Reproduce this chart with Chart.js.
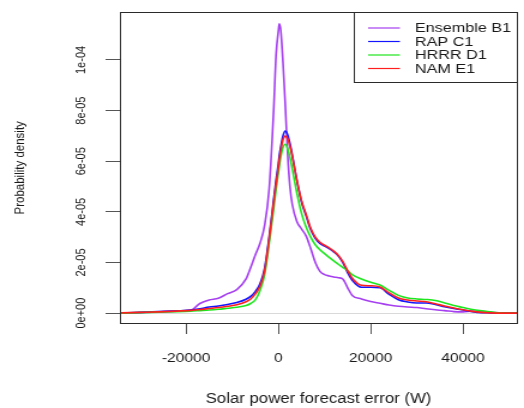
<!DOCTYPE html>
<html>
<head>
<meta charset="utf-8">
<script src="https://cdn.jsdelivr.net/npm/chart.js@4.4.1/dist/chart.umd.min.js"></script>
<style>
  html, body { margin: 0; padding: 0; background: #fff; }
  canvas { display: block; }
</style>
</head>
<body>
<!-- the reference is stretched sideways: draw narrow, widen with CSS -->
<canvas id="chart" width="437" height="408" style="width:524px;height:408px"></canvas>
<script>
// forecast error (W) where the densities were read
const errorW = [-34000, -30000, -26000, -22000, -19000, -17000, -15000, -13000, -11000, -9000,
  -7000, -6000, -5000, -4000, -3000, -2000, -1000, -500, 0, 200,
  500, 1000, 1500, 2000, 2500, 3000, 4000, 5000, 6000, 7000,
  8000, 9000, 10000, 11000, 12000, 13000, 14000, 15000, 16000, 18000,
  20000, 22000, 24000, 26000, 28000, 30000, 32000, 34000, 36000, 38000,
  40000, 42000, 44000, 46000, 48000, 50000, 52000];

// probability densities, in units of 1e-05
const ensembleB1 = [0, 0.02, 0.05, 0.08, 0.11, 0.38, 0.52, 0.59, 0.77, 0.93,
  1.35, 1.8, 2.3, 2.75, 3.45, 4.9, 8.1, 10.2, 11.15, 11.43,
  11.2, 9.9, 8.2, 6.3, 5.0, 4.3, 3.62, 3.33, 3.05, 2.55,
  2.0, 1.65, 1.52, 1.47, 1.43, 1.4, 1.34, 1.0, 0.7, 0.56,
  0.46, 0.39, 0.32, 0.27, 0.24, 0.22, 0.17, 0.13, 0.1, 0.06,
  0.05, 0.08, 0.07, 0.03, 0.01, 0, 0];
const rapC1 = [0.01, 0.03, 0.06, 0.09, 0.12, 0.17, 0.24, 0.28, 0.34, 0.42,
  0.55, 0.66, 0.85, 1.15, 1.75, 3.0, 4.5, 5.25, 5.9, 6.2,
  6.55, 7.0, 7.19, 7.05, 6.7, 6.25, 5.25, 4.4, 3.85, 3.3,
  2.95, 2.75, 2.65, 2.55, 2.42, 2.25, 1.98, 1.6, 1.3, 1.02,
  1.02, 1.0, 0.74, 0.53, 0.44, 0.4, 0.4, 0.34, 0.25, 0.18,
  0.12, 0.06, 0.02, 0.01, 0, 0, 0];
const hrrrD1 = [0, 0.02, 0.04, 0.06, 0.08, 0.1, 0.12, 0.15, 0.19, 0.23,
  0.3, 0.38, 0.52, 0.88, 1.5, 2.75, 4.15, 4.9, 5.55, 5.8,
  6.15, 6.55, 6.67, 6.5, 6.15, 5.7, 4.75, 3.95, 3.4, 3.0,
  2.7, 2.5, 2.35, 2.2, 2.06, 1.93, 1.8, 1.68, 1.52, 1.35,
  1.22, 1.11, 0.9, 0.7, 0.6, 0.56, 0.54, 0.5, 0.4, 0.3,
  0.22, 0.14, 0.09, 0.05, 0.01, 0, 0];
const namE1 = [0.01, 0.03, 0.05, 0.08, 0.11, 0.14, 0.18, 0.22, 0.27, 0.33,
  0.45, 0.56, 0.76, 1.05, 1.65, 2.9, 4.4, 5.1, 5.75, 6.05,
  6.4, 6.85, 6.99, 6.9, 6.6, 6.2, 5.25, 4.45, 3.9, 3.35,
  3.0, 2.8, 2.68, 2.58, 2.45, 2.28, 2.02, 1.68, 1.38, 1.1,
  1.08, 1.03, 0.8, 0.6, 0.52, 0.48, 0.45, 0.37, 0.28, 0.2,
  0.13, 0.07, 0.03, 0.01, 0, 0, 0];

const seriesNames = ['Ensemble B1', 'RAP C1', 'HRRR D1', 'NAM E1'];
const seriesData = [ensembleB1, rapC1, hrrrD1, namE1];
const seriesColors = ['#a53ff0', '#1414ff', '#1ee61e', '#ff1e1e'];
// drawing order: NAM on top, Ensemble underneath
const seriesOrder = [4, 3, 2, 1];

const xTickValues = [-20000, 0, 20000, 40000];
const xTickLabels = ['-20000', '0', '20000', '40000'];
const yTickValues = [0, 2, 4, 6, 8, 10];
const yTickLabels = ['0e+00', '2e-05', '4e-05', '6e-05', '8e-05', '1e-04'];

const FONT = '"Liberation Sans", Arial, sans-serif';

// box round the plot + legend in the top right corner
const frameAndLegend = {
  id: 'frameAndLegend',
  afterDraw(chart) {
    const { ctx, chartArea: a } = chart;
    ctx.save();
    ctx.strokeStyle = '#2a2a2a';
    ctx.lineWidth = 1;
    const l = Math.round(a.left) + 0.5, t = Math.round(a.top) + 0.5;
    const r = Math.round(a.right) - 0.5, b = Math.round(a.bottom) - 0.5;
    ctx.strokeRect(l, t, r - l, b - t);

    const lx = 295.5, ly = t, lh = 70;
    ctx.fillStyle = '#fff';
    ctx.fillRect(lx, ly, r - lx, lh);
    ctx.strokeRect(lx, ly, r - lx, lh);
    ctx.font = '13.5px ' + FONT;
    ctx.textBaseline = 'middle';
    chart.data.datasets.forEach((ds, i) => {
      const y = ly + 15.5 + i * 13.5;
      ctx.strokeStyle = ds.borderColor;
      ctx.lineWidth = 1.2;
      ctx.beginPath();
      ctx.moveTo(307, y);
      ctx.lineTo(333.5, y);
      ctx.stroke();
      ctx.fillStyle = '#1a1a1a';
      ctx.fillText(ds.label, 346, y + 0.5);
    });
    ctx.restore();
  }
};

new Chart(document.getElementById('chart'), {
  type: 'line',
  data: {
    datasets: seriesNames.map((name, i) => ({
      label: name,
      data: errorW.map((x, j) => ({ x, y: seriesData[i][j] })),
      borderColor: seriesColors[i],
      borderWidth: 1.6,
      pointRadius: 0,
      cubicInterpolationMode: 'monotone',
      fill: false,
      order: seriesOrder[i]
    }))
  },
  options: {
    responsive: false,
    devicePixelRatio: 1,
    animation: false,
    events: [],
    layout: { padding: { left: 0, right: 5.4, top: 7, bottom: 0 } },
    scales: {
      x: {
        type: 'linear',
        min: -34400,
        max: 51800,
        afterBuildTicks: s => { s.ticks = xTickValues.map(v => ({ value: v })); },
        afterFit: s => { s.height = 84; },
        border: { display: false },
        grid: { drawOnChartArea: false, tickLength: 10, tickColor: '#555', tickWidth: 1 },
        ticks: {
          autoSkip: false,
          maxRotation: 0,
          padding: 17,
          color: '#1a1a1a',
          font: { family: FONT, size: 13 },
          callback: (v, i) => xTickLabels[i]
        },
        title: {
          display: true,
          text: 'Solar power forecast error (W)',
          color: '#1a1a1a',
          font: { family: FONT, size: 14 },
          padding: { top: 0, bottom: 0 }
        }
      },
      y: {
        type: 'linear',
        min: -0.43,
        max: 11.91,
        afterBuildTicks: s => { s.ticks = yTickValues.map(v => ({ value: v })); },
        afterFit: s => { s.width = 99.7; },
        border: { display: false },
        grid: {
          drawOnChartArea: true,
          color: c => (c.tick && c.tick.value === 0 ? '#d9d9d9' : 'rgba(0,0,0,0)'),
          tickLength: 11.7,
          tickColor: '#555',
          tickWidth: 1
        },
        ticks: {
          autoSkip: false,
          minRotation: 90,
          maxRotation: 90,
          crossAlign: 'center',
          padding: 5,
          color: '#1a1a1a',
          font: { family: FONT, size: 11 },
          callback: (v, i) => yTickLabels[i]
        },
        title: {
          display: true,
          text: 'Probability density',
          color: '#1a1a1a',
          font: { family: FONT, size: 11.5 },
          padding: { top: 9.8, bottom: 0 }
        }
      }
    },
    plugins: {
      legend: { display: false },
      tooltip: { enabled: false }
    }
  },
  plugins: [frameAndLegend]
});
</script>
</body>
</html>
